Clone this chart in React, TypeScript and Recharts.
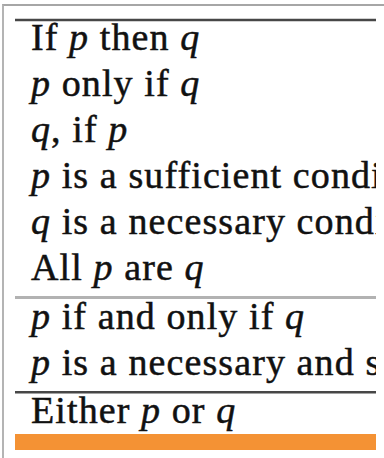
import React from 'react';
import { ScatterChart, Scatter, XAxis, YAxis, ReferenceLine, ReferenceArea } from 'recharts';

// Table content: statements grouped between horizontal rules ($..$ marks italic symbols)
const groupOne = [
  'If $p$ then $q$',
  '$p$ only if $q$',
  '$q$, if $p$',
  '$p$ is a sufficient condition for $q$',
  '$q$ is a necessary condition for $p$',
  'All $p$ are $q$',
];
const groupTwo = [
  '$p$ if and only if $q$',
  '$p$ is a necessary and sufficient condition for $q$',
];
const groupThree = ['Either $p$ or $q$'];
const groups = [groupOne, groupTwo, groupThree];
// weight of the rule drawn above each group
const ruleKinds = ['strong', 'light', 'strong'];

// layout (in row units)
const GAP = 0.06;
const BASE = 0.65;
const FOOT_OFF = 0.23;
const FOOT_H = 0.35;
const ROW_PX = 46;
const W = 384;
const H = 458;
const TOP = 20;

type Row = { x: number; y: number; text: string };
const rows: Row[] = [];
const rules: { y: number; kind: string }[] = [];
let slot = 0;
groups.forEach((g, gi) => {
  if (gi > 0) slot += GAP;
  rules.push({ y: gi === 0 ? 0 : slot - GAP / 2, kind: ruleKinds[gi] });
  g.forEach((t) => {
    rows.push({ x: 0, y: slot + BASE, text: t });
    slot += 1;
  });
});
const footTop = rows[rows.length - 1].y + FOOT_OFF;
const domainMax = footTop + FOOT_H;
const bottomMargin = H - TOP - domainMax * ROW_PX;

const Statement = (props: any) => {
  const { cx, cy, payload } = props;
  const parts: string[] = String(payload.text).split('$');
  return (
    <svg x={cx} y={cy - 42} width={361} height={58} overflow="hidden">
      <text
        x={16}
        y={42}
        fontFamily="'Liberation Serif', 'Times New Roman', serif"
        fontSize={38}
        letterSpacing={1.1}
        fill="#111"
        stroke="#111"
        strokeWidth={0.5}
      >
        {parts.map((s, i) => (
          <tspan key={i} fontStyle={i % 2 ? 'italic' : 'normal'}>
            {s}
          </tspan>
        ))}
      </text>
    </svg>
  );
};

export default function App() {
  return (
    <div style={{ position: 'absolute', left: 0, top: 0, width: W, height: H, background: '#fff' }}>
      <ScatterChart
        width={W}
        height={H}
        margin={{ top: TOP, right: 8, bottom: bottomMargin, left: 15 }}
      >
        <XAxis type="number" dataKey="x" domain={[0, 1]} hide />
        <YAxis type="number" dataKey="y" domain={[0, domainMax]} reversed hide />
        {rules.map((r, i) => (
          <ReferenceLine
            key={i}
            y={r.y}
            stroke={r.kind === 'strong' ? '#474747' : '#b2b2b2'}
            strokeWidth={r.kind === 'strong' ? 2.5 : 3}
          />
        ))}
        <ReferenceArea y1={footTop} y2={domainMax} fill="#F49234" fillOpacity={1} stroke="none" />
        <Scatter data={rows} shape={Statement} isAnimationActive={false} />
      </ScatterChart>
      <div
        style={{
          position: 'absolute',
          left: 2,
          top: 4,
          width: W - 2,
          height: H - 4,
          borderLeft: '2px solid #b4b4b4',
          borderTop: '2px solid #a6a6a6',
          boxSizing: 'border-box',
          pointerEvents: 'none',
        }}
      />
    </div>
  );
}
